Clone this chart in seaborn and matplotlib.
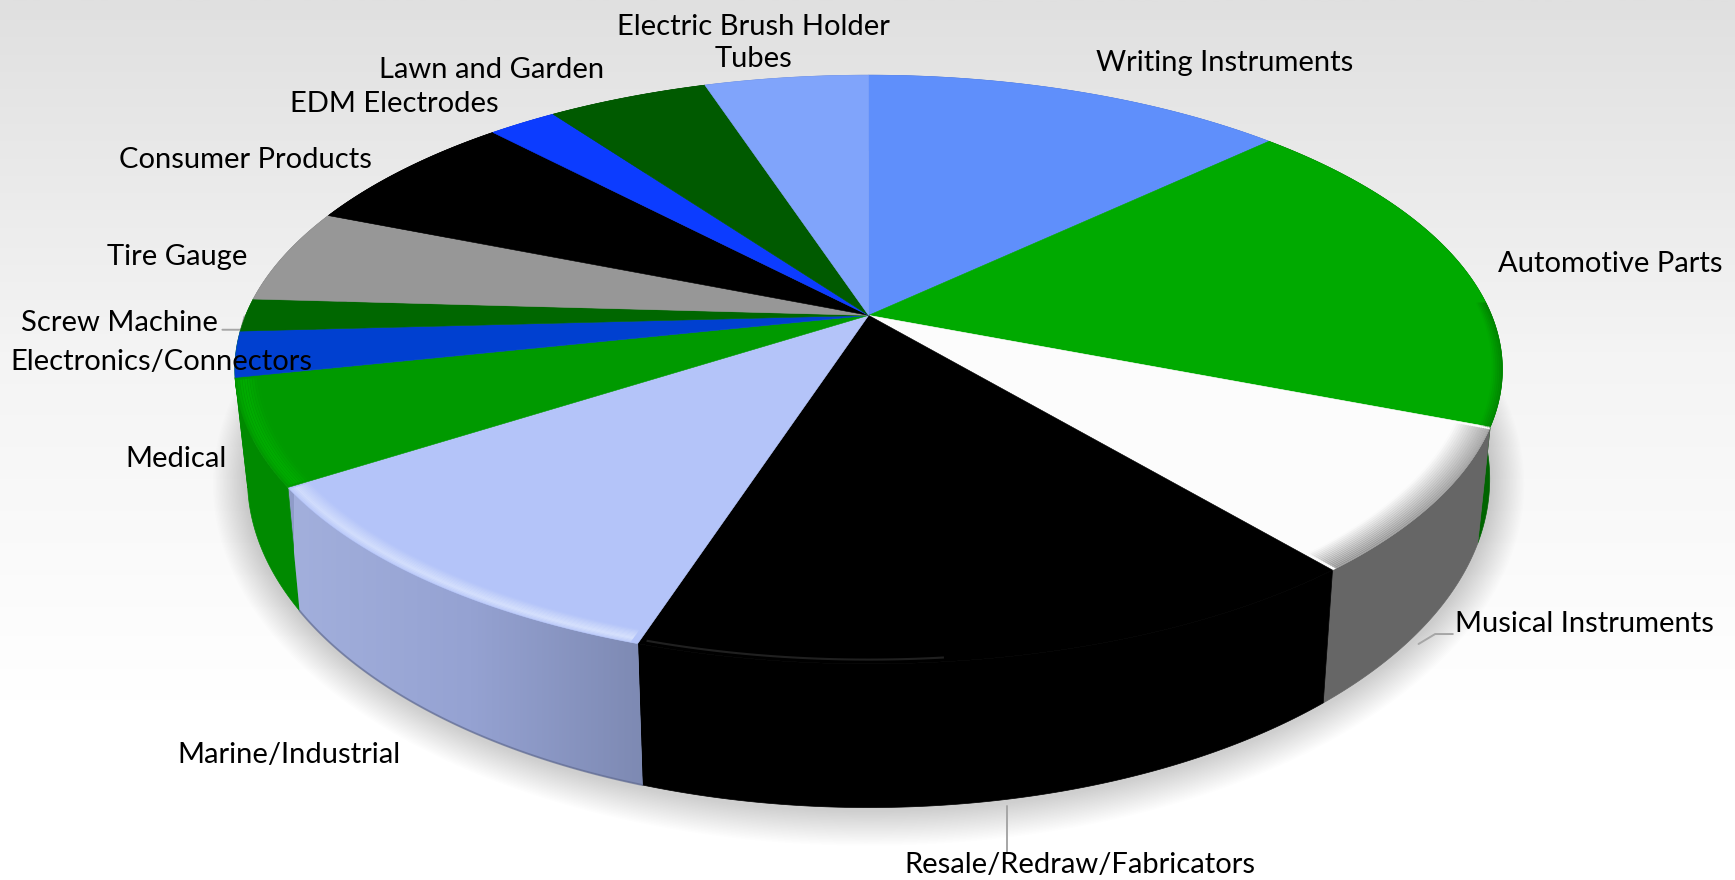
import numpy as np
import matplotlib
matplotlib.use('Agg')
import matplotlib.pyplot as plt
import seaborn as sns
from matplotlib.colors import LinearSegmentedColormap
from matplotlib.patches import Polygon

# shares of each segment, clockwise from 12 o'clock
segments = ['Writing Instruments', 'Automotive Parts', 'Musical Instruments',
            'Resale/Redraw/Fabricators', 'Marine/Industrial', 'Medical',
            'Electronics/Connectors', 'Screw Machine', 'Tire Gauge',
            'Consumer Products', 'EDM Electrodes', 'Lawn and Garden',
            'Electric Brush Holder\nTubes']
shares = [12.9, 18.1, 8.0, 16.0, 10.9, 5.8, 2.5, 1.8, 5.2, 6.9, 2.1, 4.9, 5.0]

top_colors = ['#5f8ffb', '#00aa00', '#fcfcfc', '#000000', '#b4c4f9', '#009a00',
              '#0040d0', '#006700', '#979797', '#000000', '#0c3cff', '#005a00',
              '#80a4fb']
wall_colors = ['#4a70c5', '#006400', '#666666', '#000000', '#8f9cc9', '#008a00',
               '#008a00', '#008a00', '#787878', '#000000', '#0a30cc', '#004800',
               '#6683c8']

# label centres, in the 1568 wide picture
label_x = [1107, 1455, 1432, 976, 261, 159, 146, 108, 160, 222, 356, 444, 681]
label_y = [57, 239, 564, 782, 682, 415, 327, 292, 232, 145, 94, 63, 39]

W, H = 1568, 795.3
CX, CY = 785, 285      # pie centre on the picture
A, B, K = 563, 257, 0.184   # perspective of the top face
SX, SY, DY = 0.98, 1.116, 60.3  # bottom rim from the top rim


def rim(theta, r=1.0):
    x = r * np.cos(np.radians(theta))
    y = r * np.sin(np.radians(theta))
    return CX + A * x / (1 + K * y), CY - B * y / (1 + K * y)


def low_rim(theta):
    x, y = rim(theta)
    return CX + SX * (x - CX), SY * y + DY


def arc(w, n=120):
    return np.linspace(w.theta1, w.theta2, n)


sns.set_theme(style='white')
plt.rcParams['font.family'] = ['Lato', 'DejaVu Sans']
palette = sns.color_palette(top_colors)
walls = sns.color_palette(wall_colors)

fig = plt.figure(figsize=(17.35, 8.8), dpi=100)
ax = fig.add_axes([0, 0, 1, 1])

wedges, _ = ax.pie(shares, startangle=90, counterclock=False, colors=palette)
for w in wedges:
    w.set_visible(False)
seg = dict(zip(segments, wedges))

ax.set_aspect('auto')
ax.set_xlim(0, W)
ax.set_ylim(H, 0)
ax.axis('off')

# background
bg = LinearSegmentedColormap.from_list('bg', ['#e0e0e0', '#f4f4f4', '#ffffff'])
ax.imshow(np.linspace(0, 1, 300).reshape(-1, 1), cmap=bg, aspect='auto',
          extent=(0, W, H * 0.80, 0), zorder=0)

# soft shadow under the pie
t = np.linspace(0, 360, 400)
lx, ly = low_rim(t)
for grow in np.linspace(2, 32, 24):
    ex = CX + (lx - CX) * (1 + grow / 575)
    ey = ly.mean() + (ly - ly.mean()) * (1 + grow / 320) + 2
    ax.fill(ex, ey, color='black', alpha=0.007, lw=0, zorder=1)

# side walls
for w, c in zip(wedges, walls):
    t = arc(w)
    x1, y1 = rim(t)
    x2, y2 = low_rim(t)
    ax.fill(np.r_[x1, x2[::-1]], np.r_[y1, y2[::-1]], color=c, lw=0.5, zorder=2)

# the marine wall runs from light to dark
w = seg['Marine/Industrial']
t = arc(w)
x1, y1 = rim(t)
x2, y2 = low_rim(t)
grad = LinearSegmentedColormap.from_list('wall', ['#a2afdc', '#95a2d2', '#7d89b2'])
im = ax.imshow(np.linspace(0, 1, 200).reshape(1, -1), cmap=grad, aspect='auto',
               extent=(x2.min() - 5, x2.max() + 5, y2.max() + 5, y1.min() - 5), zorder=3)
im.set_clip_path(Polygon(np.c_[np.r_[x1, x2[::-1]], np.r_[y1, y2[::-1]]],
                         transform=ax.transData))
ax.plot(x2, y2, color='#5a6488', alpha=0.6, lw=1.4, zorder=3)
ax.set_xlim(0, W)
ax.set_ylim(H, 0)

# top faces
for w, c in zip(wedges, palette):
    x1, y1 = rim(arc(w))
    ax.fill(np.r_[CX, x1], np.r_[CY, y1], color=c, lw=0.4, zorder=4)


def bevel(name, color, radii, alphas, lw=2.0, trim=(0, 0)):
    w = seg[name]
    t = np.linspace(w.theta1 + trim[0], w.theta2 - trim[1], 120)
    for r, al in zip(radii, alphas):
        x, y = rim(t, r)
        ax.plot(x, y, color=color, alpha=al, lw=lw, solid_capstyle='butt', zorder=5)


bevel('Marine/Industrial', '#e8f0ff', np.linspace(0.998, 0.968, 12),
      np.r_[np.linspace(0.2, 0.55, 4), np.linspace(0.5, 0.03, 8)], lw=1.2, trim=(0.3, 0.6))
bevel('Musical Instruments', '#666666', np.linspace(0.999, 0.95, 16),
      np.linspace(0.55, 0.02, 16), lw=1.6, trim=(0.4, 0.4))
bevel('Medical', '#00b800', np.linspace(0.995, 0.965, 9),
      [0.3, 0.5, 0.6, 0.6, 0.5, 0.4, 0.3, 0.15, 0.05], lw=1.4, trim=(0.5, 0.3))
bevel('Resale/Redraw/Fabricators', '#2e2e2e', [0.99], [0.7], lw=1.5, trim=(0.5, 34))

# right edge of the automotive slice fades into the wall
w = seg['Automotive Parts']
t = np.linspace(w.theta1, w.theta1 + 24, 60)
for r, al in zip(np.linspace(0.999, 0.985, 6), np.linspace(0.5, 0.05, 6)):
    x, y = rim(t, r)
    ax.plot(x, y, color='#006400', alpha=al, lw=1.3, zorder=5)

# leader lines
ax.plot([201, 218, 221], [298, 298, 286], color='#a6a6a6', lw=1.4, zorder=3)
ax.plot([1313, 1297, 1282], [573, 573, 582], color='#a6a6a6', lw=1.4, zorder=6)
ax.plot([910, 910], [728, 771], color='#a6a6a6', lw=1.4, zorder=6)

# labels
for name, x, y in zip(segments, label_x, label_y):
    ax.text(x, y, name, ha='center', va='center', fontsize=21, color='black',
            linespacing=1.3, zorder=7)

fig.savefig('out.png', dpi=100)
